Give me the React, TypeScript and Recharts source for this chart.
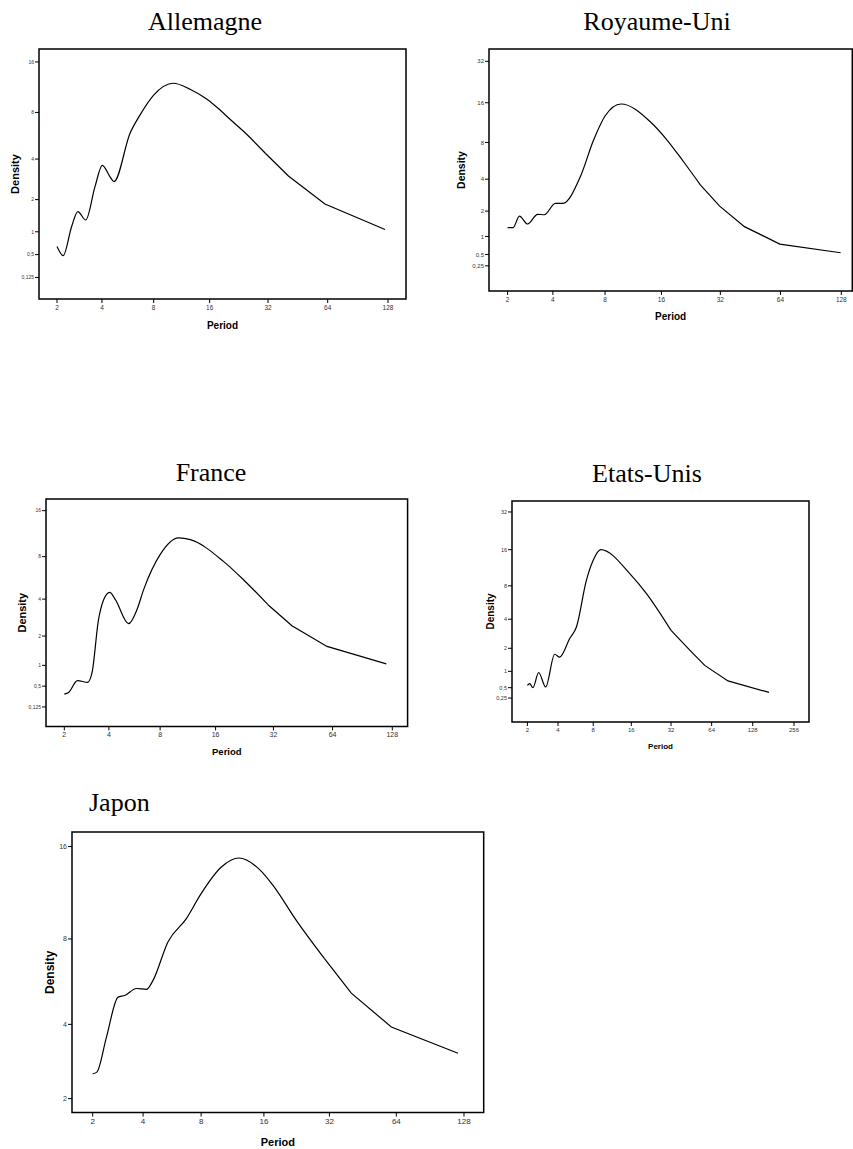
import React from "react"
import { LineChart, Line, XAxis, YAxis, ReferenceArea, Label } from "recharts"

// both axes of the original plots are on a log2(v + 1) scale
const toLog = (v: number) => Math.log2(v + 1)

const periodTicks = [2, 4, 8, 16, 32, 64, 128]
const periodTicksUS = [2, 4, 8, 16, 32, 64, 128, 256]
const densityTicksSmall = [0.125, 0.5, 1, 2, 4, 8, 16]
const densityTicksWide = [0.25, 0.5, 1, 2, 4, 8, 16, 32]
const densityTicksJapon = [2, 4, 8, 16]

const allemagnePeriods = [2, 2.22, 2.54, 2.8, 3.16, 3.62, 4.02, 4.48, 4.73, 5.88, 6.7, 8, 10.25, 12.6, 15.5, 17.7, 20.7, 24.8, 31, 40.6, 62, 123.7]
const allemagneDensity = [0.66, 0.48, 1.13, 1.58, 1.32, 2.53, 3.62, 3.0, 2.76, 5.92, 7.7, 10.2, 12.0, 11.05, 9.62, 8.48, 7.15, 5.86, 4.38, 3.04, 1.84, 1.06]

const royaumeUniPeriods = [2, 2.19, 2.43, 2.76, 3.21, 3.54, 4.14, 4.6, 5.81, 6.91, 8, 9.77, 13.98, 17.1, 20.8, 25.4, 31.75, 42.3, 63.5, 127]
const royaumeUniDensity = [1.3, 1.3, 1.77, 1.44, 1.85, 1.83, 2.4, 2.4, 4.2, 8.36, 12.75, 15.66, 11.54, 8.36, 5.61, 3.55, 2.25, 1.34, 0.77, 0.54]

const francePeriods = [2, 2.15, 2.49, 2.92, 3.12, 3.44, 3.71, 4.05, 4.39, 5.27, 5.9, 6.45, 8, 10.13, 11.72, 17.6, 22.4, 30, 39.8, 60, 119.4]
const franceDensity = [0.345, 0.376, 0.62, 0.58, 0.8, 2.76, 3.96, 4.49, 3.96, 2.56, 3.32, 4.7, 8.25, 10.65, 10.38, 7.43, 5.54, 3.63, 2.46, 1.6, 1.04]

const etatsUnisPeriods = [2, 2.12, 2.29, 2.62, 3.07, 3.73, 4.14, 5.08, 5.8, 7.03, 8, 9.2, 16, 20.9, 32, 44.1, 56.9, 84.4, 168.4]
const etatsUnisDensity = [0.56, 0.61, 0.5, 0.96, 0.52, 1.7, 1.57, 2.56, 3.36, 8.9, 13.1, 16.0, 9.83, 6.85, 3.11, 1.9, 1.22, 0.69, 0.38]

const japonPeriods = [2, 2.13, 2.45, 2.88, 3.15, 3.67, 4.17, 4.53, 5.43, 6.75, 8, 10.05, 12.2, 15.28, 17.64, 22.6, 30.4, 40.2, 60.8, 120.4]
const japonDensity = [2.56, 2.6, 3.58, 5.03, 5.1, 5.4, 5.36, 5.77, 7.82, 9.35, 11.3, 13.77, 14.71, 13.51, 12.02, 9.23, 6.86, 5.2, 3.91, 3.1]

// the long-period end of each curve is drawn as straight segments
const panels = [
  {
    title: "Allemagne", periods: allemagnePeriods, density: allemagneDensity, tailFrom: 31,
    xTicks: periodTicks, yTicks: densityTicksSmall,
    frame: { l: 39, t: 49, r: 406, b: 299 }, xDomain: [1.29, 7.306], yDomain: [-0.222, 4.323],
    titleX: 205, titleY: 32, titleAlign: "center",
    xTickFont: 6.5, yTickFont: 5, periodFont: 10, densityFont: 11, periodDist: 26, densityDist: 24,
  },
  {
    title: "Royaume-Uni", periods: royaumeUniPeriods, density: royaumeUniDensity, tailFrom: 25.4,
    xTicks: periodTicks, yTicks: densityTicksWide,
    frame: { l: 488.7, t: 49, r: 852, b: 291 }, xDomain: [1.283, 7.19], yDomain: [-0.26, 5.328],
    titleX: 657, titleY: 32, titleAlign: "center",
    xTickFont: 6.5, yTickFont: 6, periodFont: 10, densityFont: 10.5, periodDist: 25.7, densityDist: 27,
  },
  {
    title: "France", periods: francePeriods, density: franceDensity, tailFrom: 30,
    xTicks: periodTicks, yTicks: densityTicksSmall,
    frame: { l: 45.7, t: 499.3, r: 407.3, b: 726.7 }, xDomain: [1.282, 7.264], yDomain: [-0.218, 4.32],
    titleX: 211, titleY: 483, titleAlign: "center",
    xTickFont: 7, yTickFont: 5, periodFont: 9.5, densityFont: 11, periodDist: 25, densityDist: 24,
  },
  {
    title: "Etats-Unis", periods: etatsUnisPeriods, density: etatsUnisDensity, tailFrom: 32,
    xTicks: periodTicksUS, yTicks: densityTicksWide,
    frame: { l: 512.3, t: 500.7, r: 809.3, b: 721.7 }, xDomain: [1.214, 8.367], yDomain: [-0.286, 5.323],
    titleX: 647, titleY: 484, titleAlign: "center",
    xTickFont: 6, yTickFont: 5.5, periodFont: 8, densityFont: 10, periodDist: 24.3, densityDist: 21.3,
  },
  {
    title: "Japon", periods: japonPeriods, density: japonDensity, tailFrom: 30.4,
    xTicks: periodTicks, yTicks: densityTicksJapon,
    frame: { l: 72.3, t: 831.7, r: 484, b: 1112.3 }, xDomain: [1.283, 7.299], yDomain: [1.446, 4.232],
    titleX: 89, titleY: 812.7, titleAlign: "left",
    xTickFont: 8, yTickFont: 7, periodFont: 11, densityFont: 12, periodDist: 29.4, densityDist: 22.3,
  },
]

const sans = "'Liberation Sans', Arial, sans-serif"
const AXIS_W = 45
const AXIS_H = 45
const PAD = 2

const formatTick = (ticks: number[]) => (v: number) => {
  const t = ticks.find((tk) => Math.abs(toLog(tk) - v) < 1e-6)
  return t === undefined ? "" : String(t).replace(".", ",")
}

function Panel({ p }: { p: any }) {
  const { frame } = p
  const data = p.periods.map((per: number, i: number) => {
    const y = toLog(p.density[i])
    return {
      x: toLog(per),
      head: per <= p.tailFrom ? y : undefined,
      tail: per >= p.tailFrom ? y : undefined,
    }
  })
  const width = frame.r - frame.l + AXIS_W + PAD
  const height = frame.b - frame.t + AXIS_H + PAD

  const densityLabel = (props: any) => {
    const vb = props.viewBox
    const cx = vb.x + vb.width - p.densityDist
    const cy = vb.y + vb.height / 2
    return (
      <text x={cx} y={cy} transform={`rotate(-90 ${cx} ${cy})`} textAnchor="middle" dominantBaseline="central"
        fontFamily={sans} fontWeight="bold" fontSize={p.densityFont} fill="#000">Density</text>
    )
  }
  const periodLabel = (props: any) => {
    const vb = props.viewBox
    const cx = vb.x + vb.width / 2
    const cy = vb.y + p.periodDist
    return (
      <text x={cx} y={cy} textAnchor="middle" dominantBaseline="central"
        fontFamily={sans} fontWeight="bold" fontSize={p.periodFont} fill="#000">Period</text>
    )
  }

  return (
    <>
      <div style={{
        position: "absolute", top: p.titleY - 23, height: 30, lineHeight: "26px",
        left: p.titleAlign === "center" ? p.titleX - 150 : p.titleX, width: 300,
        textAlign: p.titleAlign, fontFamily: "'Liberation Serif', 'Times New Roman', serif", fontSize: 26,
        whiteSpace: "nowrap",
      }}>{p.title}</div>
      <div style={{ position: "absolute", left: frame.l - AXIS_W, top: frame.t - PAD }}>
        <LineChart width={width} height={height} data={data} margin={{ top: PAD, right: PAD, left: 0, bottom: 0 }}>
          <XAxis type="number" dataKey="x" domain={p.xDomain} ticks={p.xTicks.map(toLog)} allowDataOverflow
            height={AXIS_H} axisLine={false} tickSize={4} tickMargin={2} interval={0}
            tickLine={{ stroke: "#000" }} tickFormatter={formatTick(p.xTicks)}
            tick={{ fontSize: p.xTickFont, fill: "#333", fontFamily: sans }}>
            <Label content={periodLabel} />
          </XAxis>
          <YAxis type="number" domain={p.yDomain} ticks={p.yTicks.map(toLog)} allowDataOverflow
            width={AXIS_W} axisLine={false} tickSize={4} tickMargin={1} interval={0}
            tickLine={{ stroke: "#000" }} tickFormatter={formatTick(p.yTicks)}
            tick={{ fontSize: p.yTickFont, fill: "#333", fontFamily: sans }}>
            <Label content={densityLabel} />
          </YAxis>
          <Line type="monotone" dataKey="head" stroke="#000" strokeWidth={1.2} dot={false} isAnimationActive={false} />
          <Line type="linear" dataKey="tail" stroke="#000" strokeWidth={1.2} dot={false} isAnimationActive={false} />
          <ReferenceArea x1={p.xDomain[0]} x2={p.xDomain[1]} y1={p.yDomain[0]} y2={p.yDomain[1]}
            fill="none" fillOpacity={0} stroke="#000" strokeWidth={1.5} ifOverflow="visible" />
        </LineChart>
      </div>
    </>
  )
}

export default function App() {
  return (
    <div style={{ position: "absolute", left: 0, top: 0, width: 853, height: 1149, background: "#fff", overflow: "hidden" }}>
      {panels.map((p) => <Panel key={p.title} p={p} />)}
    </div>
  )
}
